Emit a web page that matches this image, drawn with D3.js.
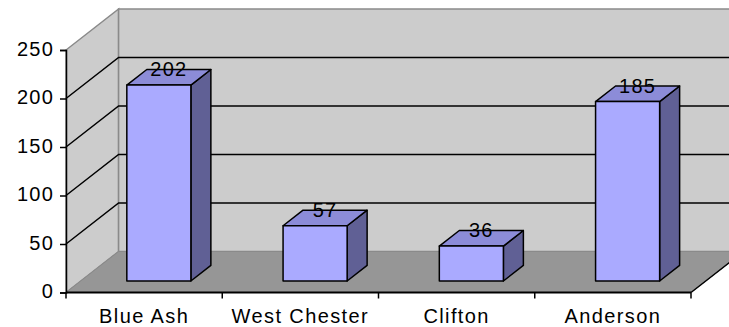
<!DOCTYPE html>
<html>
<head>
<meta charset="utf-8">
<script src="https://cdn.jsdelivr.net/npm/d3@7"></script>
<style>
  html, body { margin: 0; padding: 0; background: #fff; }
  svg { display: block; font-family: "Liberation Sans", Arial, sans-serif; }
</style>
</head>
<body>
<div id="chart"></div>
<script>
// chart data
const categories = ['Blue Ash', 'West Chester', 'Clifton', 'Anderson'];
const values = [202, 57, 36, 185];
const yTicks = [0, 50, 100, 150, 200, 250];

const width = 729;
const height = 327;

// front plane of the plot
const plotLeft = 66, plotRight = 691, plotBottom = 292.5, plotTop = 50;
// depth offset of the back wall
const DX = 52.6, DY = -41;
// bar depth (fraction of the full depth)
const z0 = 0.28, z1 = 0.66;

const svg = d3.select('#chart').append('svg')
  .attr('width', width)
  .attr('height', height);

const x = d3.scaleBand().domain(categories).range([plotLeft, plotRight]);
const y = d3.scaleLinear().domain([0, 250]).range([plotBottom, plotTop]);

const pt = (px, py, z) => [px + z * DX, py + z * DY];
const poly = (pts) => pts.map(p => p.join(',')).join(' ');

// walls and floor
svg.append('polygon')
  .attr('points', poly([pt(plotLeft, y(0), 0), pt(plotLeft, y(250), 0), pt(plotLeft, y(250), 1), pt(plotLeft, y(0), 1)]))
  .attr('fill', '#cccccc').attr('stroke', '#8a8a8a').attr('stroke-width', 1.5);

svg.append('polygon')
  .attr('points', poly([pt(plotLeft, y(250), 1), pt(plotRight + 60, y(250), 1), pt(plotRight + 60, y(0), 1), pt(plotLeft, y(0), 1)]))
  .attr('fill', '#cccccc').attr('stroke', '#8a8a8a').attr('stroke-width', 1.5);

svg.append('polygon')
  .attr('points', poly([pt(plotLeft, y(0), 0), pt(plotLeft, y(0), 1), pt(plotRight, y(0), 1), pt(plotRight, y(0), 0)]))
  .attr('fill', '#969696').attr('stroke', '#8a8a8a').attr('stroke-width', 1);

// floor right edge
svg.append('line')
  .attr('x1', plotRight).attr('y1', y(0))
  .attr('x2', pt(plotRight, y(0), 1)[0]).attr('y2', pt(plotRight, y(0), 1)[1])
  .attr('stroke', '#000').attr('stroke-width', 1.5);

// gridlines on side wall and back wall
const grid = yTicks.filter(d => d > 0 && d < 250);
svg.append('g').selectAll('path')
  .data(grid)
  .join('path')
  .attr('d', d => {
    const a = pt(plotLeft, y(d), 0), b = pt(plotLeft, y(d), 1);
    return `M${a}L${b}L${width + 5},${b[1]}`;
  })
  .attr('fill', 'none')
  .attr('stroke', '#000')
  .attr('stroke-width', 1.5);

// y axis
const yAxis = svg.append('g')
  .attr('transform', `translate(${plotLeft},0)`)
  .call(d3.axisLeft(y).tickValues(yTicks).tickSize(6).tickPadding(6));
yAxis.select('.domain').attr('stroke', '#000').attr('stroke-width', 1.5);
yAxis.selectAll('.tick line').attr('stroke', '#000').attr('stroke-width', 1.5);
yAxis.selectAll('.tick text')
  .attr('fill', '#000')
  .attr('dy', '0.26em')
  .style('font-size', '20px')
  .style('letter-spacing', '1.2px')
  .style('font-family', '"Liberation Sans", Arial, sans-serif');

// x axis
svg.append('line')
  .attr('x1', plotLeft).attr('y1', plotBottom)
  .attr('x2', plotRight).attr('y2', plotBottom)
  .attr('stroke', '#000').attr('stroke-width', 2);

const bounds = d3.range(categories.length + 1).map(i => plotLeft + i * x.step());
svg.append('g').selectAll('line')
  .data(bounds)
  .join('line')
  .attr('x1', d => d).attr('x2', d => d)
  .attr('y1', plotBottom).attr('y2', plotBottom + 6)
  .attr('stroke', '#000').attr('stroke-width', 1.5);

svg.append('g').selectAll('text')
  .data(categories)
  .join('text')
  .attr('x', d => x(d) + x.bandwidth() / 2)
  .attr('y', 323)
  .attr('text-anchor', 'middle')
  .style('font-size', '20px')
  .style('letter-spacing', '1.4px')
  .text(d => d);

// bars
const bw = x.bandwidth() * 0.41;
const bars = svg.append('g').selectAll('g')
  .data(categories.map((c, i) => ({ c, v: values[i] })))
  .join('g');

const bx0 = d => x(d.c) + x.bandwidth() / 2 - bw / 2;
const bx1 = d => bx0(d) + bw;

// side
bars.append('polygon')
  .attr('points', d => poly([
    pt(bx1(d), y(0), z0), pt(bx1(d), y(0), z1), pt(bx1(d), y(d.v), z1), pt(bx1(d), y(d.v), z0)]))
  .attr('fill', '#606095').attr('stroke', '#000').attr('stroke-width', 1.5).attr('stroke-linejoin', 'round');

// top
bars.append('polygon')
  .attr('points', d => poly([
    pt(bx0(d), y(d.v), z0), pt(bx0(d), y(d.v), z1), pt(bx1(d), y(d.v), z1), pt(bx1(d), y(d.v), z0)]))
  .attr('fill', '#8c8cd8').attr('stroke', '#000').attr('stroke-width', 1.5).attr('stroke-linejoin', 'round');

// front
bars.append('polygon')
  .attr('points', d => poly([
    pt(bx0(d), y(0), z0), pt(bx1(d), y(0), z0), pt(bx1(d), y(d.v), z0), pt(bx0(d), y(d.v), z0)]))
  .attr('fill', '#aaaaff').attr('stroke', '#000').attr('stroke-width', 1.5).attr('stroke-linejoin', 'round');

// value labels at the centre of the top face
const zm = (z0 + z1) / 2;
bars.append('text')
  .attr('x', d => pt((bx0(d) + bx1(d)) / 2, y(d.v), zm)[0])
  .attr('y', d => pt((bx0(d) + bx1(d)) / 2, y(d.v), zm)[1] - 1)
  .attr('text-anchor', 'middle')
  .style('font-size', '20px')
  .style('letter-spacing', '1.2px')
  .text(d => d.v);
</script>
</body>
</html>
